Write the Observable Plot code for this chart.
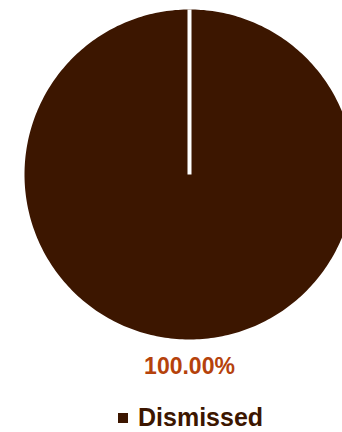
<!DOCTYPE html>
<html>
<head>
<meta charset="utf-8">
<script src="https://cdn.jsdelivr.net/npm/d3@7"></script>
<script src="https://cdn.jsdelivr.net/npm/@observablehq/plot@0.6"></script>
<style>
  html, body { margin: 0; padding: 0; background: #fff; }
  #wrap { position: relative; width: 342px; height: 432px; overflow: hidden; font-family: "Liberation Sans", Arial, sans-serif; }
  #legend { position: absolute; left: 0; top: 406px; width: 342px; height: 22px; line-height: 22px; font-size: 25px; font-weight: bold; color: #3c1600; }
  #legend .item { position: absolute; left: 118px; top: 0; height: 22px; white-space: nowrap; }
  #legend .sw { position: absolute; left: 0; top: 7px; width: 10px; height: 10px; }
  #legend .lab { position: absolute; left: 20px; top: 0; height: 22px; }
</style>
</head>
<body>
<div id="wrap">
  <div id="chart"></div>
  <div id="legend"></div>
</div>
<script>
const categories = ["Dismissed"];
const values = [100];
const labels = ["100.00%"];
const colors = ["#3c1600"];
const labelColor = "#b5420b";

const arcs = d3.pie().sort(null).startAngle(0).endAngle(2 * Math.PI)(values)
  .map((a, i) => ({cat: categories[i], label: labels[i], start: a.startAngle, end: a.endAngle, mid: (a.startAngle + a.endAngle) / 2}));

// polygon outline of each slice (center + arc), in unit coordinates
const pts = [];
for (const a of arcs) {
  pts.push({cat: a.cat, x: 0, y: 0});
  const n = Math.max(2, Math.ceil((a.end - a.start) / (Math.PI / 180)));
  for (let k = 0; k <= n; k++) {
    const t = a.start + (a.end - a.start) * k / n;
    pts.push({cat: a.cat, x: Math.sin(t), y: Math.cos(t)});
  }
  pts.push({cat: a.cat, x: 0, y: 0});
}

const cx = 189, cy = 174, R = 165;

const chart = Plot.plot({
  width: 342,
  height: 385,
  margin: 0,
  x: {domain: [-1, 1], range: [cx - R, cx + R], axis: null},
  y: {domain: [-1, 1], range: [cy + R, cy - R], axis: null},
  color: {domain: categories, range: colors},
  marks: [
    Plot.line(pts, {x: "x", y: "y", z: "cat", fill: "cat", stroke: "none"}),
    Plot.link(arcs, {
      x1: 0, y1: 0,
      x2: d => Math.sin(d.start), y2: d => Math.cos(d.start),
      stroke: "white", strokeWidth: 4
    }),
    Plot.text(arcs, {
      x: d => Math.sin(d.mid) * 1.167,
      y: d => Math.cos(d.mid) * 1.167,
      text: "label",
      fill: labelColor,
      fontSize: 23,
      fontWeight: "bold",
      fontFamily: "Liberation Sans, Arial, sans-serif"
    })
  ]
});
document.getElementById("chart").appendChild(chart);

const legend = document.getElementById("legend");
categories.forEach((c, i) => {
  const item = document.createElement("div");
  item.className = "item";
  const sw = document.createElement("span");
  sw.className = "sw";
  sw.style.background = colors[i];
  const lab = document.createElement("span");
  lab.className = "lab";
  lab.textContent = c;
  item.appendChild(sw);
  item.appendChild(lab);
  legend.appendChild(item);
});
</script>
</body>
</html>
